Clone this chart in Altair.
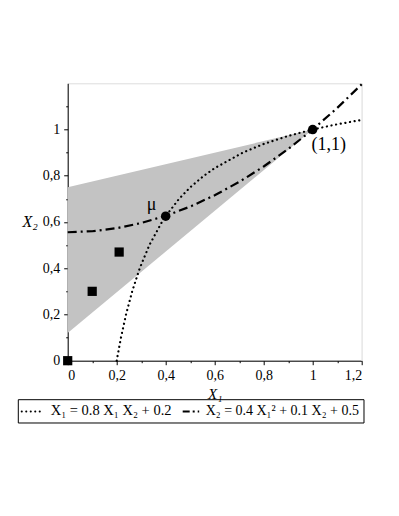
import altair as alt
import pandas as pd

# dotted curve: X1 = 0.8 X1 X2 + 0.2
dot_x1 = [0.2, 0.2174, 0.2381, 0.2632, 0.2941, 0.3333, 0.3846, 0.4, 0.4545, 0.5, 0.5556, 0.6, 0.7143, 0.8, 0.9, 1.0, 1.1, 1.2]
dot_x2 = [0.0, 0.1, 0.2, 0.3, 0.4, 0.5, 0.6, 0.625, 0.7, 0.75, 0.8, 0.833, 0.9, 0.9375, 0.9722, 1.0, 1.0227, 1.0417]

# dash-dot curve: X2 = 0.4 X1^2 + 0.1 X2 + 0.5
dd_x1 = [0.0, 0.1, 0.2, 0.3, 0.4, 0.5, 0.6, 0.7, 0.8, 0.9, 1.0, 1.1, 1.2]
dd_x2 = [0.5556, 0.56, 0.5733, 0.5956, 0.6267, 0.6667, 0.7156, 0.7733, 0.84, 0.9156, 1.0, 1.0933, 1.1956]

# shaded cone
cone_x1 = [0.0, 1.0]
cone_upper = [0.75, 1.0]
cone_lower = [0.12, 1.0]

# square points
sq_x1 = [0.0, 0.1, 0.21]
sq_x2 = [0.0, 0.3, 0.47]

# circle points + labels
pt_x1 = [0.4, 1.0]
pt_x2 = [0.625, 1.0]
pt_lab = ["μ", "(1,1)"]

x_ticks = [0.0, 0.1, 0.2, 0.3, 0.4, 0.5, 0.6, 0.7, 0.8, 0.9, 1.0, 1.1, 1.2]
y_ticks = [0.0, 0.1, 0.2, 0.3, 0.4, 0.5, 0.6, 0.7, 0.8, 0.9, 1.0, 1.1]

legend_1 = "X₁ = 0.8 X₁ X₂ + 0.2"
legend_2 = "X₂ = 0.4 X₁² + 0.1 X₂ + 0.5"

FONT = "Liberation Serif"
W, H = 294, 277.4

major = "abs(datum.value*5 - round(datum.value*5)) < 0.01"
lab = "(" + major + ") ? replace(format(datum.value, '.1~f'), '.', ',') : ''"

xaxis = alt.Axis(values=x_ticks, labelExpr=lab, grid=False, domainColor="black",
                 tickColor="black", labelColor="black", labelFont=FONT, labelFontSize=14,
                 tickSize={"condition": {"test": major, "value": 4}, "value": 2},
                 labelPadding=4, labelOverlap=False,
                 title="X₁", titleFont=FONT, titleFontStyle="italic", titleFontWeight="normal",
                 titleFontSize=15, titleColor="black", titleX=W / 2, titleY=33, titleBaseline="middle")
yaxis = alt.Axis(values=y_ticks, labelExpr=lab, grid=False, domainColor="black",
                 tickColor="black", labelColor="black", labelFont=FONT, labelFontSize=14,
                 tickSize={"condition": {"test": major, "value": 4}, "value": 2},
                 labelPadding=4, labelOverlap=False,
                 title="X₂", titleFont=FONT, titleFontStyle="italic", titleFontWeight="normal",
                 titleFontSize=16, titleColor="black", titleAngle=0, titleX=-38, titleY=138,
                 titleAlign="center", titleBaseline="middle")

xs = alt.Scale(domain=[0, 1.2], nice=False, zero=False)
ys = alt.Scale(domain=[0, 1.2], nice=False, zero=False)

def X(f):
    return alt.X(f, type="quantitative", scale=xs, axis=xaxis)

def Y(f):
    return alt.Y(f, type="quantitative", scale=ys, axis=yaxis)

cone = alt.Chart(pd.DataFrame({"x": cone_x1, "u": cone_upper, "l": cone_lower})).mark_area(
    color="#c3c3c3", opacity=1).encode(x=X("x"), y=Y("u"), y2="l")

border = alt.Chart(pd.DataFrame({"x": [1.2]})).mark_rule(color="#eeeeee", strokeWidth=1).encode(x=X("x"))

dotted = alt.Chart(pd.DataFrame({"x": dot_x1, "y": dot_x2})).mark_line(
    color="black", strokeWidth=2.2, strokeDash=[0.1, 4.6], strokeCap="round").encode(
    x=X("x"), y=Y("y"), order="y:Q")

dashdot = alt.Chart(pd.DataFrame({"x": dd_x1, "y": dd_x2})).mark_line(
    color="black", strokeWidth=2.2, strokeDash=[9, 4, 2, 4]).encode(x=X("x"), y=Y("y"))

squares = alt.Chart(pd.DataFrame({"x": sq_x1, "y": sq_x2})).mark_point(
    shape="square", filled=True, color="black", opacity=1, size=85).encode(x=X("x"), y=Y("y"))

pts_df = pd.DataFrame({"x": pt_x1, "y": pt_x2, "t": pt_lab})
circles = alt.Chart(pts_df).mark_circle(color="black", opacity=1, size=90).encode(x=X("x"), y=Y("y"))

mu = alt.Chart(pts_df.iloc[[0]]).mark_text(font=FONT, fontSize=18, color="black", dx=-14, dy=-11).encode(
    x=X("x"), y=Y("y"), text="t:N")
one = alt.Chart(pts_df.iloc[[1]]).mark_text(font=FONT, fontSize=18, color="black", dx=16, dy=15).encode(
    x=X("x"), y=Y("y"), text="t:N")

one_row = pd.DataFrame({"a": [0]})
LY = 328.2
box = alt.Chart(one_row).mark_rect(fillOpacity=0, stroke="black", strokeWidth=1).encode(
    x=alt.value(-49.4), x2=alt.value(296.3), y=alt.value(316.4), y2=alt.value(339.7))
samp1 = alt.Chart(one_row).mark_rule(color="black", strokeWidth=2, strokeDash=[0.1, 4.4], strokeCap="round").encode(
    x=alt.value(-46), x2=alt.value(-24.5), y=alt.value(LY))
samp2 = alt.Chart(one_row).mark_rule(color="black", strokeWidth=2.2, strokeDash=[7, 3, 2, 3]).encode(
    x=alt.value(115), x2=alt.value(131.5), y=alt.value(LY))
txt1 = alt.Chart(one_row).mark_text(font=FONT, fontSize=14.5, color="black", align="left", baseline="middle").encode(
    x=alt.value(-17), y=alt.value(LY), text=alt.value(legend_1))
txt2 = alt.Chart(one_row).mark_text(font=FONT, fontSize=14, color="black", align="left", baseline="middle").encode(
    x=alt.value(138), y=alt.value(LY), text=alt.value(legend_2))

chart = alt.layer(cone, border, dotted, dashdot, squares, circles, mu, one,
                  box, samp1, samp2, txt1, txt2).properties(
    width=W, height=H,
    autosize=alt.AutoSizeParams(type="none"),
    padding={"left": 59.7, "top": 75.3, "right": 29, "bottom": 140},
).configure_view(stroke=None).configure(background="white")

chart.save("out.html", embed_options={"renderer": "svg", "actions": False})
